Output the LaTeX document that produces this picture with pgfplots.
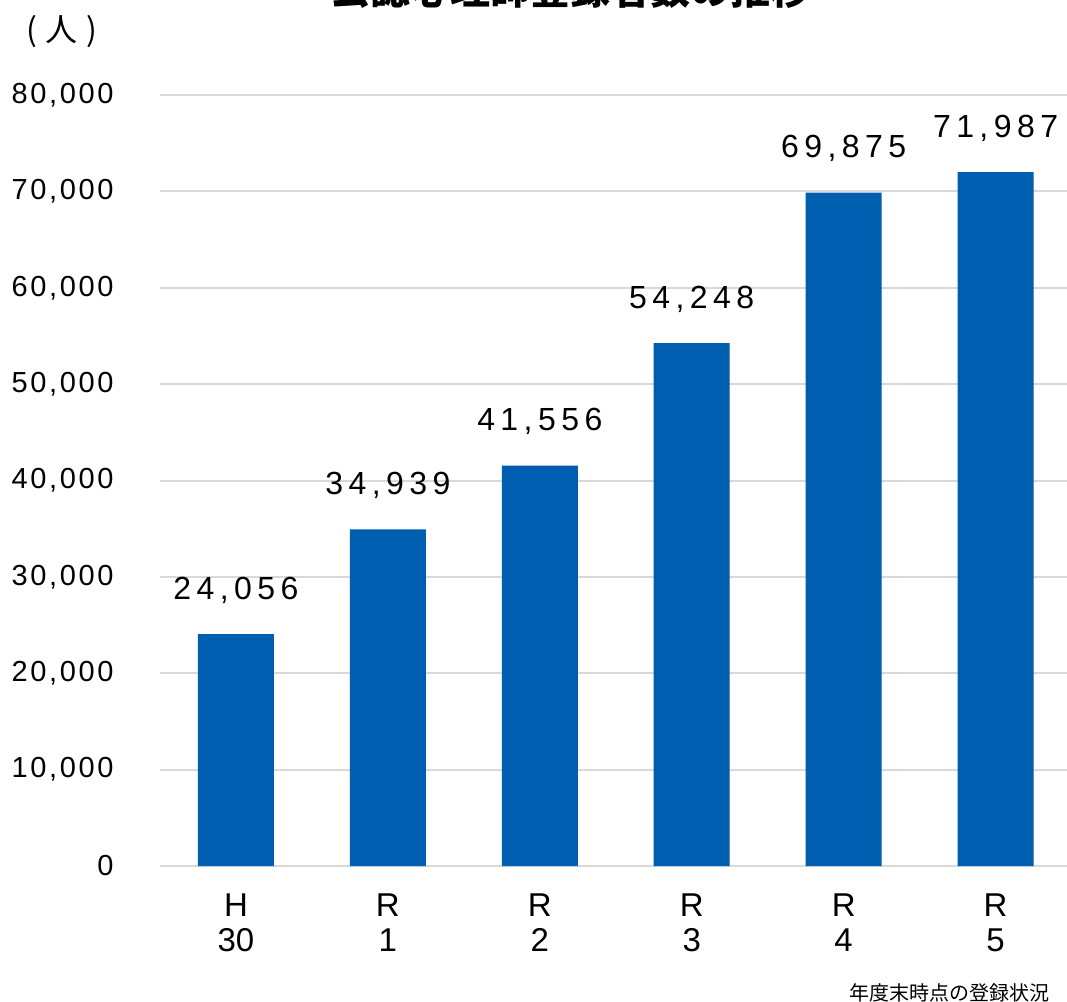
\documentclass[border=0pt]{standalone}
\usepackage{fontspec}
\setmainfont{Liberation Sans}
\newfontfamily\cjk{Noto Sans CJK JP}
\usepackage{pgfplots}
\pgfplotsset{compat=1.18}
\definecolor{barblue}{RGB}{0,94,176}
\definecolor{gridgray}{RGB}{217,217,217}
\begin{document}
\begin{tikzpicture}
\useasboundingbox (-160pt,-135pt) rectangle (907pt,866pt);
\begin{axis}[
  scale only axis,
  width=907pt, height=771pt,
  xmin=-0.5, xmax=5.47,
  ymin=0, ymax=80000,
  axis line style={draw=none},
  ymajorgrids=true,
  grid style={gridgray, line width=2pt},
  ytick={0,10000,...,80000},
  xtick=data,
  xticklabels={{H\\30},{R\\1},{R\\2},{R\\3},{R\\4},{R\\5}},
  x tick label style={align=center, font=\fontsize{33}{35}\selectfont, anchor=north, yshift=-24pt},
  y tick label style={font=\fontsize{29}{31}\selectfont\addfontfeature{LetterSpace=9}, anchor=east, xshift=-43pt},
  scaled y ticks=false,
  /pgf/number format/.cd, 1000 sep={,}, assume math mode=true,
  /pgfplots/.cd,
  tick style={draw=none},
  major tick length=0pt,
  nodes near coords,
  every node near coord/.append style={font=\fontsize{32}{34}\selectfont\addfontfeature{LetterSpace=17}, anchor=base, yshift=35pt, black},
  clip=false,
]
\addplot[ybar, bar width=76pt, fill=barblue, draw=none] coordinates {
  (0,24056) (1,34939) (2,41556) (3,54248) (4,69875) (5,71987)
};
\end{axis}
\node[anchor=base, font=\fontsize{40}{42}\selectfont\cjk\bfseries] at (410pt,861pt) {公認心理師登録者数の推移};
\node[anchor=center, font=\fontsize{32}{34}\selectfont\cjk] at (-98pt,834pt) {(\hspace{9pt}人\hspace{9pt})};
\node[anchor=east, inner sep=0pt, font=\fontsize{20}{22}\selectfont\cjk] at (890pt,-127pt) {年度末時点の登録状況};
\end{tikzpicture}
\end{document}
